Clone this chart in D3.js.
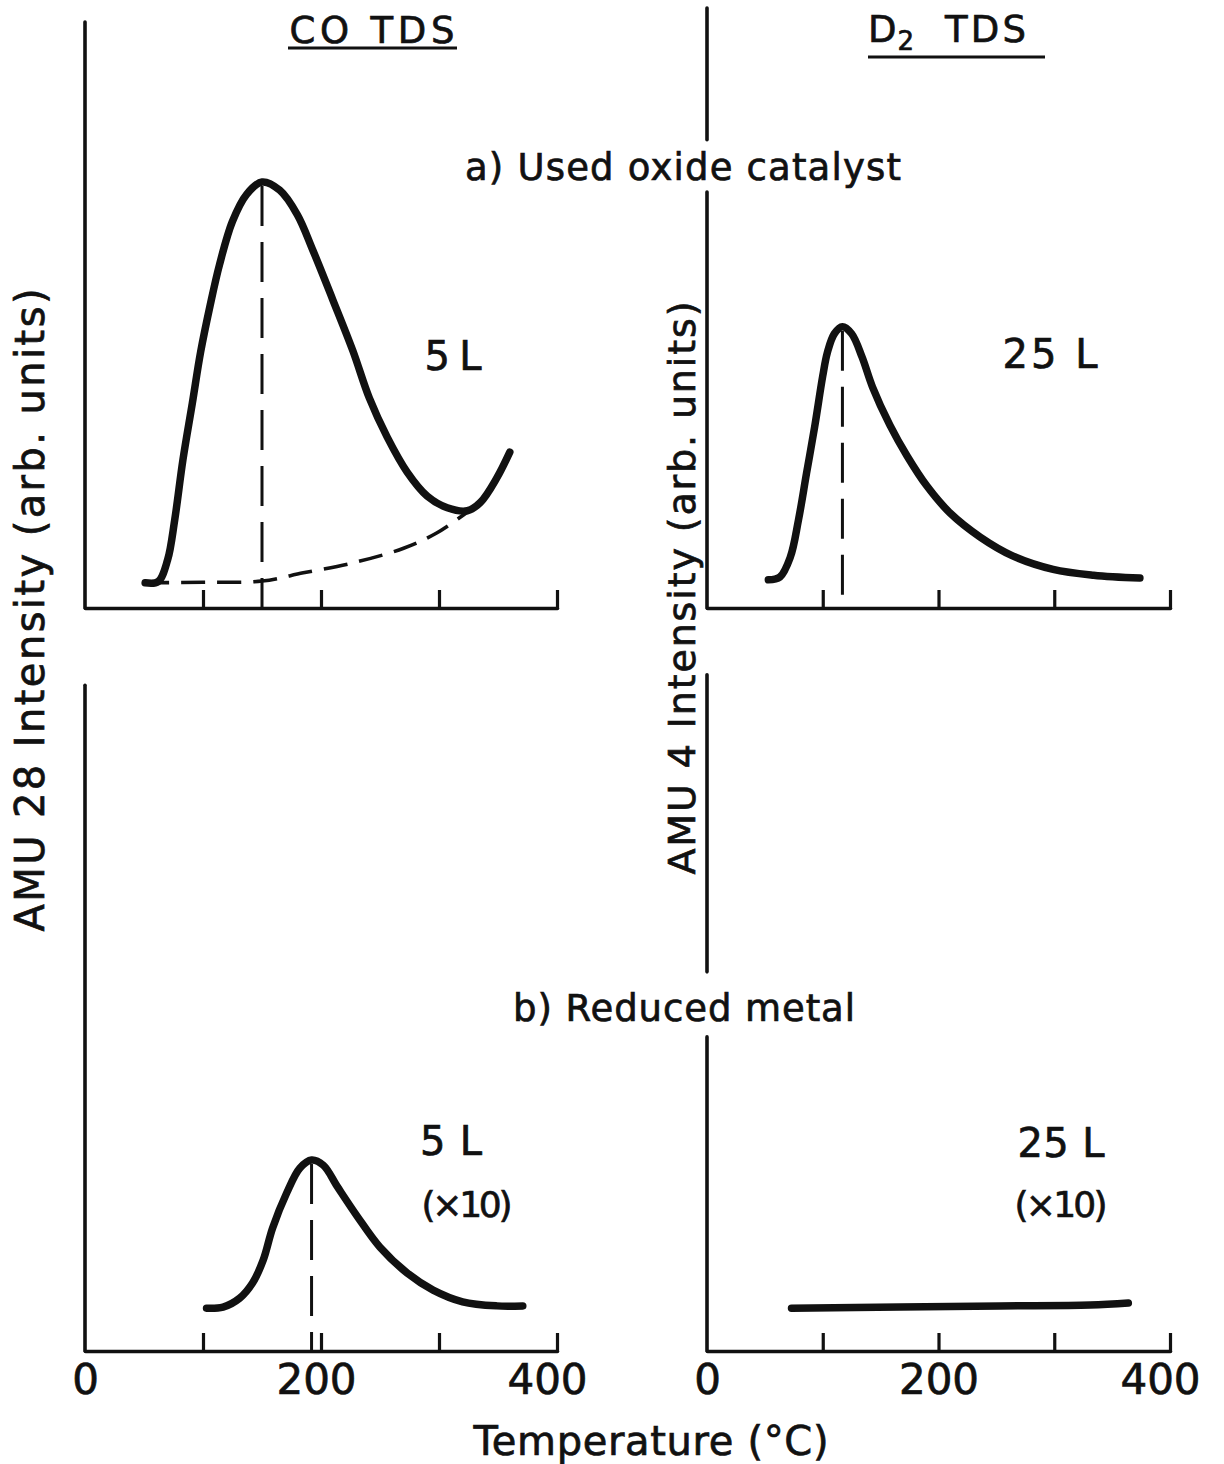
<!DOCTYPE html>
<html>
<head>
<meta charset="utf-8">
<script src="https://cdn.jsdelivr.net/npm/d3@7"></script>
<style>
  body { margin: 0; background: #fff; }
  svg { display: block; }
  text { font-family: "DejaVu Sans", sans-serif; fill: #111; stroke: #111; stroke-width: 0.7px; }
</style>
</head>
<body>
<svg id="chart" width="1224" height="1464"></svg>
<script>
// ---- Thermal desorption traces: temperature (°C) vs. intensity (arb. units) ----

// a) Used oxide catalyst, CO (AMU 28), 5 L
const coOxideTemp = [51, 62, 70, 76, 83, 91, 98, 106, 114, 125, 137, 150, 165, 180, 193, 210, 227, 241, 256, 273, 290, 307, 324, 335, 349, 360];
const coOxideInt  = [4.3, 4.5, 8.2, 15.0, 25.3, 35.0, 43.7, 51.6, 58.6, 66.0, 70.6, 72.7, 71.3, 67.1, 61.1, 52.6, 43.9, 35.8, 29.2, 23.2, 19.1, 17.1, 16.6, 18.0, 22.2, 26.6];
// estimated background under the CO peak (dashed)
const coBackTemp = [51, 100, 150, 185, 227, 270, 298, 325];
const coBackInt  = [4.3, 4.4, 4.6, 6.0, 7.7, 10.2, 12.8, 16.5];
const coOxidePeak = 150;

// a) Used oxide catalyst, D2 (AMU 4), 25 L
const d2OxideTemp = [53, 63, 72, 79, 86, 93, 100, 104, 110, 117, 125, 134, 143, 158, 173, 190, 210, 236, 264, 299, 334, 374];
const d2OxideInt  = [4.8, 5.3, 8.7, 15.0, 23.0, 30.9, 39.6, 43.6, 46.8, 48.0, 46.8, 42.8, 37.7, 31.2, 25.9, 20.8, 16.2, 12.1, 8.9, 6.6, 5.6, 5.1];
const d2OxidePeak = 117;

// b) Reduced metal, CO (AMU 28), 5 L (x10)
const coMetalTemp = [103, 117, 131, 142, 151, 159, 171, 182, 192, 202, 214, 231, 250, 273, 295, 320, 349, 371];
const coMetalInt  = [7.3, 7.5, 9.0, 11.6, 15.5, 21.0, 27.0, 31.2, 32.6, 31.7, 28.0, 22.9, 17.7, 13.3, 10.4, 8.4, 7.7, 7.7];
const coMetalPeak = 192;

// b) Reduced metal, D2 (AMU 4), 25 L (x10): flat, no desorption
const d2MetalTemp = [73, 167, 253, 331, 364];
const d2MetalInt  = [7.3, 7.5, 7.7, 7.85, 8.2];

// axis ticks
const tickTemps = [100, 200, 300, 400];
const tickLabelTemps = [0, 200, 400];

// ---- layout ----
const svg = d3.select("#chart");
svg.append("rect").attr("width", 1224).attr("height", 1464).attr("fill", "#fff");

const xScale = {
  left:  d3.scaleLinear().domain([0, 400]).range([85, 557]),
  right: d3.scaleLinear().domain([0, 400]).range([707, 1170])
};
const yScale = {
  top:    d3.scaleLinear().domain([0, 100]).range([608, 22]),
  bottom: d3.scaleLinear().domain([0, 100]).range([1351, 765])
};

const zip = (a, b) => a.map((v, i) => [v, b[i]]);

const panels = [
  { col: "left",  row: "top",    trace: zip(coOxideTemp, coOxideInt), back: zip(coBackTemp, coBackInt),
    peak: coOxidePeak, spans: [[0, 100]], labels: false },
  { col: "right", row: "top",    trace: zip(d2OxideTemp, d2OxideInt),
    peak: d2OxidePeak, spans: [[0, 71], [79.9, 102.4]], labels: false },
  { col: "left",  row: "bottom", trace: zip(coMetalTemp, coMetalInt),
    peak: coMetalPeak, spans: [[0, 113.6]], labels: true },
  { col: "right", row: "bottom", trace: zip(d2MetalTemp, d2MetalInt),
    peak: null, spans: [[0, 53.6], [64.7, 115.4]], labels: true }
];

const ink = "#111";

panels.forEach(p => {
  const x = xScale[p.col], y = yScale[p.row];
  const g = svg.append("g");

  // vertical intensity axis (broken where the row captions pass through)
  p.spans.forEach(([a, b]) => {
    g.append("line")
      .attr("x1", x(0)).attr("x2", x(0))
      .attr("y1", y(a)).attr("y2", y(b))
      .attr("stroke", ink).attr("stroke-width", 3.6).attr("stroke-linecap", "round");
  });

  // temperature axis with inward ticks
  const ax = g.append("g")
    .attr("transform", `translate(0,${y(0)})`)
    .call(d3.axisBottom(x).tickValues(tickTemps).tickSize(-18).tickSizeOuter(0).tickFormat(""));
  ax.select(".domain").attr("stroke", ink).attr("stroke-width", 3.6).attr("stroke-linecap", "round");
  ax.selectAll(".tick line").attr("stroke", ink).attr("stroke-width", 3.2);

  if (p.labels) {
    const lab = g.append("g")
      .attr("transform", `translate(0,${y(0)})`)
      .call(d3.axisBottom(x).tickValues(tickLabelTemps).tickSize(0).tickPadding(13).tickFormat(d3.format("d")));
    lab.select(".domain").remove();
    lab.selectAll("text")
      .attr("font-size", 42).attr("font-family", "DejaVu Sans, sans-serif")
      .attr("fill", ink).attr("stroke", ink).attr("stroke-width", 0.7)
      .attr("dx", d => d === 400 ? -10 : (d === 200 && p.col === "left" ? -5 : 0));
  }

  const line = d3.line()
    .x(d => x(d[0])).y(d => y(d[1]))
    .curve(d3.curveCatmullRom.alpha(0.5));

  // background estimate
  if (p.back) {
    g.append("path").datum(p.back)
      .attr("d", line).attr("fill", "none")
      .attr("stroke", ink).attr("stroke-width", 3.6)
      .attr("stroke-dasharray", "24,12");
  }

  // peak-position marker
  if (p.peak !== null) {
    const top = d3.max(p.trace, d => d[1]);
    g.append("line")
      .attr("x1", x(p.peak)).attr("x2", x(p.peak))
      .attr("y1", y(top) + 4).attr("y2", y(0))
      .attr("stroke", ink).attr("stroke-width", 3)
      .attr("stroke-dasharray", "40,16");
  }

  // desorption trace
  g.append("path").datum(p.trace)
    .attr("d", line).attr("fill", "none")
    .attr("stroke", ink).attr("stroke-width", 7.5)
    .attr("stroke-linecap", "round").attr("stroke-linejoin", "round");
});

// ---- text ----
function label(str, x, y, size, len, anchor = "middle") {
  const t = svg.append("text")
    .attr("x", x).attr("y", y)
    .attr("font-size", size)
    .attr("text-anchor", anchor)
    .text(str);
  if (len) t.attr("textLength", len).attr("lengthAdjust", "spacing");
  return t;
}

// column headings
label("CO TDS", 372, 43, 37, 165);
svg.append("line").attr("x1", 288).attr("x2", 457).attr("y1", 48).attr("y2", 48)
  .attr("stroke", ink).attr("stroke-width", 3);

const d2 = svg.append("text").attr("x", 868).attr("y", 42).attr("font-size", 37);
d2.append("tspan").text("D");
d2.append("tspan").attr("font-size", 26).attr("dy", 8).attr("dx", 1).text("2");
d2.append("tspan").attr("x", 945).attr("dy", -8).attr("textLength", 81).attr("lengthAdjust", "spacing").text("TDS");
svg.append("line").attr("x1", 868).attr("x2", 1045).attr("y1", 57).attr("y2", 57)
  .attr("stroke", ink).attr("stroke-width", 3);

// row captions
label("a) Used oxide catalyst", 465, 180, 37, 436, "start");
label("b) Reduced metal", 513, 1021, 37, 342, "start");

// exposure labels
label("5 L", 453, 370, 40, 57);
label("25 L", 1050, 368, 40, 95);
label("5 L", 451, 1155, 40, 62);
label("(×10)", 467, 1217, 36, 91);
label("25 L", 1061, 1157, 40, 87);
label("(×10)", 1061, 1217, 36, 93);

// axis titles
label("Temperature (°C)", 651, 1455, 40, 355);
label("AMU 28 Intensity (arb. units)", 0, 0, 40, 643)
  .attr("transform", "translate(44,610) rotate(-90)");
label("AMU 4 Intensity (arb. units)", 0, 0, 38, 573)
  .attr("transform", "translate(695,588) rotate(-90)");
</script>
</body>
</html>
